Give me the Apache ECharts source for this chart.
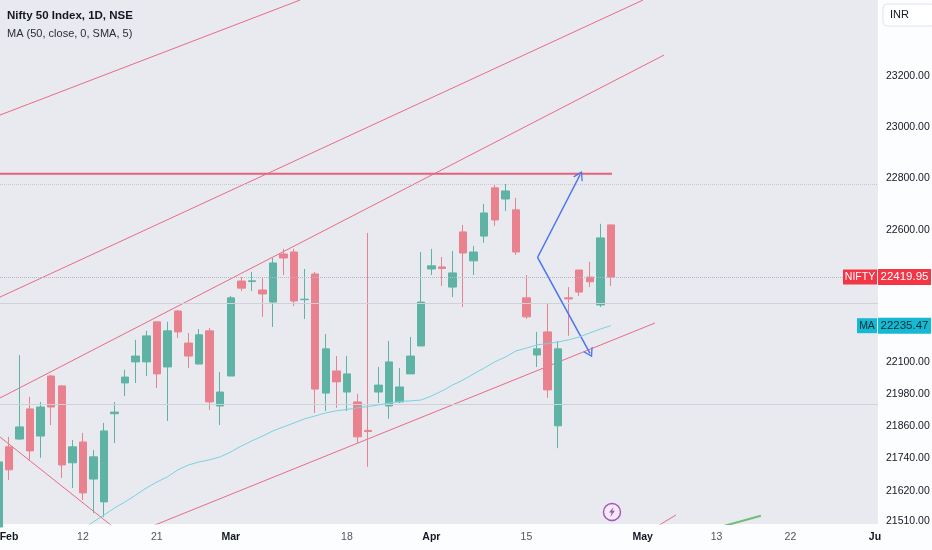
<!DOCTYPE html>
<html lang="en">
<head>
<meta charset="UTF-8">
<title>Nifty 50 Index, 1D, NSE</title>
<script src="https://cdn.jsdelivr.net/npm/echarts@6.0.0/dist/echarts.min.js"></script>
<style>
  html, body { margin: 0; padding: 0; background: #fcfdff; }
  #chart { width: 932px; height: 550px; }
</style>
</head>
<body>
<div id="chart"></div>
<script>
// trading days on screen, Jan 31 2024 sits at index -1, Feb 1 at index 0
const firstIndex = -1;
const dates = [
  '2024-01-31', '2024-02-01', '2024-02-02', '2024-02-05', '2024-02-06', '2024-02-07', '2024-02-08',
  '2024-02-09', '2024-02-12', '2024-02-13', '2024-02-14', '2024-02-15', '2024-02-16', '2024-02-19',
  '2024-02-20', '2024-02-21', '2024-02-22', '2024-02-23', '2024-02-26', '2024-02-27', '2024-02-28',
  '2024-02-29', '2024-03-01', '2024-03-02', '2024-03-04', '2024-03-05', '2024-03-06', '2024-03-07',
  '2024-03-11', '2024-03-12', '2024-03-13', '2024-03-14', '2024-03-15', '2024-03-18', '2024-03-19',
  '2024-03-20', '2024-03-21', '2024-03-22', '2024-03-26', '2024-03-27', '2024-03-28', '2024-04-01',
  '2024-04-02', '2024-04-03', '2024-04-04', '2024-04-05', '2024-04-08', '2024-04-09', '2024-04-10',
  '2024-04-12', '2024-04-15', '2024-04-16', '2024-04-18', '2024-04-19', '2024-04-22', '2024-04-23',
  '2024-04-24', '2024-04-25', '2024-04-26'
];

// [open, close, low, high]
const ohlc = [
  [21487, 21726, 21450, 21741],
  [21782, 21697, 21660, 21819],
  [21811, 21856, 21807, 22124],
  [21923, 21767, 21734, 21968],
  [21822, 21930, 21741, 21949],
  [22046, 21930, 21863, 22050],
  [22009, 21715, 21667, 22012],
  [21723, 21782, 21630, 21807],
  [21800, 21612, 21586, 21834],
  [21663, 21745, 21538, 21770],
  [21579, 21841, 21524, 21871],
  [21905, 21911, 21796, 21949],
  [22020, 22042, 21971, 22069],
  [22099, 22121, 22020, 22182],
  [22099, 22197, 22046, 22216],
  [22250, 22054, 22001, 22250],
  [22080, 22216, 21878, 22250],
  [22291, 22212, 22189, 22295],
  [22170, 22121, 22076, 22208],
  [22091, 22201, 22091, 22223],
  [22216, 21949, 21919, 22227],
  [21934, 21986, 21863, 22061],
  [22046, 22341, 22046, 22348],
  [22405, 22378, 22367, 22420],
  [22403, 22406, 22367, 22440],
  [22371, 22356, 22269, 22416],
  [22325, 22474, 22231, 22493],
  [22508, 22493, 22428, 22528],
  [22516, 22329, 22310, 22528],
  [22334, 22336, 22261, 22451],
  [22432, 21997, 21908, 22440],
  [21982, 22148, 21915, 22204],
  [22065, 22024, 21927, 22121],
  [21986, 22054, 21915, 22121],
  [21949, 21819, 21796, 21979],
  [21843, 21839, 21708, 22589],
  [21986, 22012, 21945, 22080],
  [21934, 22099, 21886, 22178],
  [21949, 22005, 21945, 22076],
  [22054, 22121, 22054, 22193],
  [22159, 22325, 22159, 22516],
  [22451, 22463, 22428, 22528],
  [22459, 22453, 22386, 22497],
  [22382, 22436, 22344, 22520],
  [22593, 22512, 22306, 22620],
  [22482, 22516, 22428, 22539],
  [22577, 22666, 22551, 22701],
  [22763, 22639, 22616, 22774],
  [22720, 22751, 22674, 22778],
  [22678, 22516, 22505, 22724],
  [22341, 22269, 22261, 22428],
  [22125, 22148, 22080, 22212],
  [22212, 21994, 21964, 22322],
  [21860, 22148, 21777, 22178],
  [22341, 22337, 22197, 22382],
  [22447, 22363, 22348, 22447],
  [22420, 22402, 22382, 22478],
  [22314, 22570, 22306, 22624],
  [22620, 22419.95, 22386, 22620]
];

// MA (50, close), starting at index 7
const maStart = 7;
const maValues = [
  21480, 21506, 21531, 21557, 21579, 21604, 21630, 21652, 21671, 21697,
  21715, 21726, 21734, 21745, 21763, 21785, 21804, 21822, 21841, 21856,
  21871, 21886, 21897, 21908, 21916, 21921, 21927, 21932, 21938, 21945,
  21951, 21953, 21956, 21971, 21990, 22012, 22031, 22054, 22076, 22099,
  22117, 22140, 22151, 22163, 22168, 22174, 22182, 22193, 22208, 22223,
  22235.47
];

const yTicks = [23200, 23000, 22800, 22600, 22400, 22100, 21980, 21860, 21740, 21620, 21510];
const xTickIndex = [0, 7, 14, 21, 32, 40, 49, 60, 67, 74, 82];
const xTickText = ['Feb', '12', '21', 'Mar', '18', 'Apr', '15', 'May', '13', '22', 'Ju'];
const monthNames = ['Feb', 'Mar', 'Apr', 'May', 'Ju'];

const lastClose = 22419.95;
const lastMa = 22235.47;
const grayLevels = [22321.4, 21941.4];
const dottedLevel = 22777.7;

// user drawings, [index, price] end points
const redLines = [
  [[-0.85, 23046.6], [27.56, 23501.8]],
  [[-0.85, 22344], [60.04, 23501.8]],
  [[-0.85, 21963.7], [62.03, 23283]],
  [[13.35, 21487], [61.17, 22245.6]],
  [[-0.85, 21818.5], [9.88, 21487]],
  [[61.27, 21487], [63.16, 21531]]
];
const resistance = [[-0.85, 22817.7], [57.1, 22817.7]];
const greenLine = [[66.86, 21482], [71.2, 21528]];
const arrowFrom = [50.05, 22495];
const arrowTips = [[54.07, 22812.7], [55.02, 22131]];
const eventMark = [57.1, 21542];

const FONT = "'Liberation Sans', Arial, sans-serif";
const GREEN = '#5fb3a5';
const RED = '#e9828e';
const DRAW_RED = '#ea6b83';

const chart = echarts.init(document.getElementById('chart'));

const candleData = ohlc.map((d, i) => [firstIndex + i, d[0], d[1], d[2], d[3]]);
const maData = maValues.map((v, i) => [maStart + i, v]);

// 10.56 px per bar, Feb 1 centred at x = 9
const xMin = -9 / 10.56;
const xMax = xMin + 878 / 10.56;

const chevron = 'path://M0,10 L5,0 L10,10 L8.6,10 L5,2.8 L1.4,10 Z';

const drawSeries = redLines.map(pts => ({
  type: 'line',
  data: pts,
  showSymbol: false,
  silent: true,
  lineStyle: { color: DRAW_RED, width: 1 },
  z: 3
}));

const arrowLines = arrowTips.map(tip => [
  { coord: arrowFrom, symbol: 'none', lineStyle: { color: '#4b74ee', width: 1.5, type: 'solid' }, label: { show: false } },
  { coord: tip, symbol: chevron, symbolSize: [11, 9] }
]);

function priceTag(bg, fg, nameWidth) {
  const box = { backgroundColor: bg, color: fg, fontFamily: FONT, fontSize: 11.5,
                align: 'center', padding: [2, 2, 2, 2], lineHeight: 11 };
  return {
    n: Object.assign({}, box, { width: nameWidth, fontSize: 10.5 }),
    g: { width: 1 },
    v: Object.assign({}, box, { width: 49 })
  };
}

const option = {
  animation: false,
  backgroundColor: '#fcfdff',
  title: {
    left: 7, top: 10, itemGap: 6, padding: 0,
    text: 'Nifty 50 Index, 1D, NSE',
    subtext: 'MA (50, close, 0, SMA, 5)',
    textStyle: { fontFamily: FONT, fontSize: 11.5, fontWeight: 'bold', color: '#131722' },
    subtextStyle: { fontFamily: FONT, fontSize: 11, color: '#2a2e39' }
  },
  grid: {
    left: 0, right: 54, top: 0, bottom: 26,
    containLabel: false,
    outerBoundsMode: 'none',
    show: true, backgroundColor: '#e8eaef', borderWidth: 0
  },
  xAxis: {
    type: 'value',
    min: xMin, max: xMax,
    axisLine: { show: false },
    axisTick: { show: false },
    splitLine: { show: false },
    axisLabel: {
      customValues: xTickIndex,
      margin: 8,
      fontFamily: FONT, fontSize: 10.5, color: '#50535e',
      formatter: v => {
        const t = xTickText[xTickIndex.indexOf(v)];
        return monthNames.includes(t) ? '{m|' + t + '}' : t;
      },
      rich: { m: { fontFamily: FONT, fontSize: 10.5, fontWeight: 'bold', color: '#131722' } }
    }
  },
  yAxis: {
    type: 'log',
    logBase: 10,
    min: 21498, max: 23502,
    position: 'right',
    axisLine: { show: false },
    axisTick: { show: false },
    splitLine: { show: false },
    axisLabel: {
      customValues: yTicks,
      margin: 8,
      fontFamily: FONT, fontSize: 10.5, color: '#131722',
      formatter: v => Number(v).toFixed(2)
    }
  },
  graphic: [
    {
      type: 'rect', z: 10,
      shape: { x: 883, y: 4, width: 52, height: 22, r: 4 },
      style: { fill: '#ffffff', stroke: '#e0e3eb', lineWidth: 1 }
    },
    {
      type: 'text', z: 11, x: 890, y: 15,
      style: { text: 'INR', fontFamily: FONT, fontSize: 11, fill: '#131722', verticalAlign: 'middle' }
    }
  ],
  series: [
    {
      type: 'line',
      data: resistance,
      showSymbol: false, silent: true,
      lineStyle: { color: '#e5627b', width: 2 },
      z: 3
    },
    ...drawSeries,
    {
      type: 'line',
      data: greenLine,
      showSymbol: false, silent: true,
      lineStyle: { color: '#6cbf78', width: 2 },
      z: 3
    },
    {
      type: 'candlestick',
      data: candleData,
      encode: { x: 0, y: [1, 2, 3, 4] },
      barWidth: 8,
      itemStyle: {
        color: GREEN, color0: RED,
        borderColor: GREEN, borderColor0: RED,
        borderWidth: 1
      },
      z: 4,
      markLine: {
        silent: true,
        symbol: 'none',
        animation: false,
        label: { show: false },
        data: [
          ...grayLevels.map(v => ({ yAxis: v, lineStyle: { color: '#cdd1d8', width: 1, type: 'solid' } })),
          { yAxis: dottedLevel, lineStyle: { color: '#c4c8cf', width: 1, type: 'dotted' } },
          {
            yAxis: lastClose,
            lineStyle: { color: '#b3b7bf', width: 1, type: 'dotted' },
            label: {
              show: true,
              position: 'end',
              distance: -35,
              formatter: '{n|NIFTY}{g|}{v|' + lastClose.toFixed(2) + '}',
              rich: priceTag('#f23645', '#ffffff', 30)
            }
          }
        ]
      }
    },
    {
      type: 'line',
      data: maData,
      showSymbol: false, silent: true,
      lineStyle: { color: '#78d2de', width: 1 },
      z: 5,
      markLine: {
        silent: true,
        symbol: 'none',
        animation: false,
        data: [
          {
            yAxis: lastMa,
            lineStyle: { color: 'rgba(0,0,0,0)', width: 0 },
            label: {
              show: true,
              position: 'end',
              distance: -21,
              formatter: '{n|MA}{g|}{v|' + lastMa.toFixed(2) + '}',
              rich: priceTag('#16b9d2', '#0b2e36', 16)
            }
          },
          ...arrowLines
        ]
      }
    },
    {
      type: 'scatter',
      data: [eventMark],
      symbol: 'circle',
      symbolSize: 17,
      silent: true,
      itemStyle: { color: '#f2eef7', borderColor: '#9c27b0', borderWidth: 1.4 },
      z: 6
    },
    {
      type: 'scatter',
      data: [eventMark],
      symbol: 'path://M7,0 L0,9 L4,9 L2,16 L9,6 L5,6 L7,0 Z',
      symbolSize: [6, 10],
      silent: true,
      itemStyle: { color: '#9c27b0' },
      z: 7
    }
  ]
};

chart.setOption(option);
window.addEventListener('resize', () => chart.resize());
</script>
</body>
</html>
